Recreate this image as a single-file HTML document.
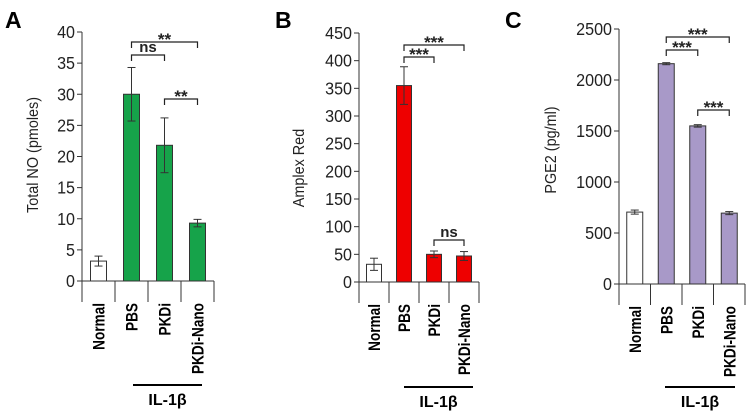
<!DOCTYPE html>
<html><head><meta charset="utf-8"><style>
body{margin:0;background:#fff}
svg{display:block;font-family:"Liberation Sans",Arial,sans-serif}
</style></head><body>
<svg id="chart" width="750" height="416" viewBox="0 0 750 416" xmlns="http://www.w3.org/2000/svg"></svg>
<script>
const categories = ["Normal","PBS","PKDi","PKDi-Nano"];
const valuesA = [3.2, 30, 21.8, 9.3];
const errorsA = [0.8, 4.3, 4.4, 0.6];
const ticksA = [0,5,10,15,20,25,30,35,40];
const valuesB = [32, 355, 50, 47];
const errorsB = [11, 34, 6, 8];
const ticksB = [0,50,100,150,200,250,300,350,400,450];
const valuesC = [705, 2160, 1550, 695];
const errorsC = [20, 10, 12, 15];
const ticksC = [0,500,1000,1500,2000,2500];
const sigA = [[1,3,"**"],[1,2,"ns"],[2,3,"**"]];
const sigB = [[1,3,"***"],[1,2,"***"],[2,3,"ns"]];
const sigC = [[1,3,"***"],[1,2,"***"],[2,3,"***"]];

const panels = [
 {id:"a",letter:"A",lx:5,ax:82,cw:33,bw:16,y0:281,ytop:32,max:40,vals:valuesA,errs:errorsA,ticks:ticksA,sig:sigA,sigY:[42,55,99],color:"#16a34a",title:"Total NO (pmoles)",tx:38,ty:155,ilY:385,ilX1:133,ilX2:202},
 {id:"b",letter:"B",lx:275,ax:359,cw:30,bw:15,y0:282,ytop:33,max:450,vals:valuesB,errs:errorsB,ticks:ticksB,sig:sigB,sigY:[45,57,240],color:"#ee0000",title:"Amplex Red",tx:304,ty:168,ilY:387,ilX1:404,ilX2:473},
 {id:"c",letter:"C",lx:505,ax:619,cw:31.5,bw:16,y0:284,ytop:29,max:2500,vals:valuesC,errs:errorsC,ticks:ticksC,sig:sigC,sigY:[37,50,110],color:"#a899c8",title:"PGE2 (pg/ml)",tx:556,ty:150,ilY:387,ilX1:665,ilX2:735}
];
const svg = document.getElementById('chart');
const NS = "http://www.w3.org/2000/svg";
function mk(tag, attrs, parent, text){
  const e = document.createElementNS(NS, tag);
  for (const k in attrs) e.setAttribute(k, attrs[k]);
  if (text !== undefined) e.textContent = text;
  parent.appendChild(e); return e;
}
function squeeze(t, f){
  const w = t.getComputedTextLength();
  if (w > 0) { t.setAttribute('textLength', w * f); t.setAttribute('lengthAdjust', 'spacingAndGlyphs'); }
}
panels.forEach(p => {
  const g = mk('g', {}, svg);
  
  
  const y = v => p.y0 - (v / p.max) * (p.y0 - p.ytop);
  const cx = i => p.ax + p.cw * (i + 0.5);
  const L = mk('text', {x:p.lx, y:28, 'font-size':23, 'font-weight':'bold'}, g, p.letter);
  
  
  const ya = mk('line', {x1:p.ax, y1:p.ytop, x2:p.ax, y2:p.y0+21, stroke:'#333', 'stroke-width':1}, g);
  
  
  p.ticks.forEach(t => {
    mk('line', {x1:p.ax-5, x2:p.ax, y1:y(t), y2:y(t), stroke:'#333'}, g);
    const tl = mk('text', {x:p.ax-7, y:y(t)+6, 'font-size':17.5, 'text-anchor':'end', fill:'#222'}, g, t);
    
    
    squeeze(tl, 0.92);
  });
  const xa = mk('line', {x1:p.ax, y1:p.y0, x2:p.ax+p.cw*4, y2:p.y0, stroke:'#333'}, g);
  
  
  for (let i = 1; i <= 4; i++) mk('line', {x1:p.ax+p.cw*i, x2:p.ax+p.cw*i, y1:p.y0, y2:p.y0+21, stroke:'#333'}, g);
  const tt = mk('text', {x:p.tx, y:p.ty, 'font-size':16, 'text-anchor':'middle', fill:'#222', transform:`rotate(-90 ${p.tx} ${p.ty})`}, g, p.title);
  
  
  squeeze(tt, 0.9);
  categories.forEach((c, i) => {
    const v = p.vals[i], e = p.errs[i], x = cx(i);
    const b = mk('rect', {x:x-p.bw/2, y:y(v), width:p.bw, height:p.y0-y(v), fill:i===0?'#fff':p.color, stroke:'#333', 'stroke-width':1}, g);
    
    
    mk('line', {x1:x, x2:x, y1:y(v+e), y2:y(v-e), stroke:'#333'}, g);
    mk('line', {x1:x-4, x2:x+4, y1:y(v+e), y2:y(v+e), stroke:'#333'}, g);
    mk('line', {x1:x-4, x2:x+4, y1:y(v-e), y2:y(v-e), stroke:'#333'}, g);
    const ty = p.y0 + 22;
    const cl = mk('text', {x:x+6, y:ty, 'font-size':17, 'font-weight':'bold', 'text-anchor':'end', transform:`rotate(-90 ${x+6} ${ty})`}, g, c);
    
    
    squeeze(cl, 0.8);
  });
  p.sig.forEach((s, k) => {
    const x1 = cx(s[0]), x2 = cx(s[1]), by = p.sigY[k];
    const br = mk('path', {d:`M${x1},${by+6}V${by}H${x2}V${by+6}`, fill:'none', stroke:'#222', 'stroke-width':1.2}, g);
    
    
    const st = s[2] === 'ns';
    const lt = mk('text', {x:(x1+x2)/2, y:st?by-3:by+3, 'font-size':st?15:17, 'font-weight':'bold', 'text-anchor':'middle', fill:'#222'}, g, s[2]);
    
    
  });
  const il = mk('line', {x1:p.ilX1, x2:p.ilX2, y1:p.ilY, y2:p.ilY, stroke:'#000', 'stroke-width':2}, g);
  
  
  const it = mk('text', {x:(p.ilX1+p.ilX2)/2, y:p.ilY+20, 'font-size':16, 'font-weight':'bold', 'text-anchor':'middle'}, g, 'IL-1β');
  
  
});
</script>
</body></html>
